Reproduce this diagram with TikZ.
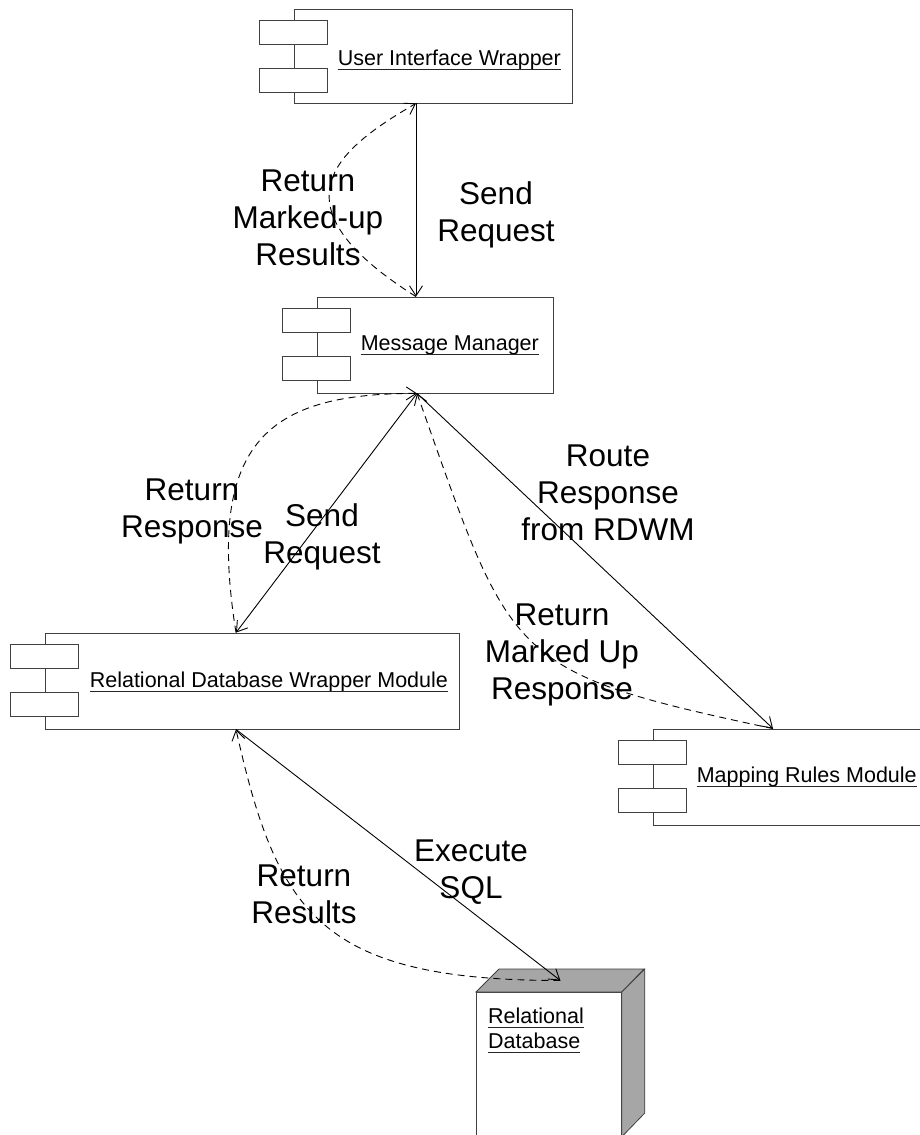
\documentclass[tikz,border=0pt]{standalone}
\usepackage{fontspec}
\setmainfont{Liberation Sans}
\usetikzlibrary{arrows.meta, calc}

\tikzset{
  comp/.style={draw=black!75, fill=white, line width=0.8pt, inner sep=0pt},
  tab/.style={draw=black!75, fill=white, line width=0.8pt},
  clabel/.style={font=\fontsize{21.5pt}{25pt}\selectfont, inner sep=0pt, anchor=base west},
  uline/.style={black!85, line width=0.9pt},
  msg/.style={font=\fontsize{31.5pt}{37pt}\selectfont, align=center, inner sep=0pt},
  req/.style={line width=0.9pt, -{Straight Barb[length=10pt,width=13pt]}},
  ret/.style={req, dash pattern=on 7pt off 5pt},
  dbface/.style={draw=black!75, fill=black!35, line width=0.8pt}
}

\begin{document}
\begin{tikzpicture}[x=1pt, y=-1pt]
    \path[use as bounding box, fill=white] (0,0) rectangle (919,1135);

    % Draw the components
    \node[comp, minimum width=278pt, minimum height=94pt] (uiw) at (433,56) {};
    \node[comp, minimum width=236pt, minimum height=96pt] (mm) at (435,345) {};
    \node[comp, minimum width=414pt, minimum height=96pt] (rdwm) at (252,681) {};
    \node[comp, minimum width=282pt, minimum height=96pt] (mrm) at (794,777) {};

    % Component tabs
    \draw[tab] ([shift={(-34,12)}]uiw.north west) rectangle ++(68,24);
    \draw[tab] ([shift={(-34,60)}]uiw.north west) rectangle ++(68,24);
    \draw[tab] ([shift={(-34,12)}]mm.north west) rectangle ++(68,24);
    \draw[tab] ([shift={(-34,60)}]mm.north west) rectangle ++(68,24);
    \draw[tab] ([shift={(-34,12)}]rdwm.north west) rectangle ++(68,24);
    \draw[tab] ([shift={(-34,60)}]rdwm.north west) rectangle ++(68,24);
    \draw[tab] ([shift={(-34,12)}]mrm.north west) rectangle ++(68,24);
    \draw[tab] ([shift={(-34,60)}]mrm.north west) rectangle ++(68,24);

    % Draw the database
    \node[comp, minimum width=145pt, minimum height=144pt, anchor=north west] (db) at (476,992) {};
    \draw[dbface] (db.north west) -- ++(23,-23) -- ++(145,0) -- (db.north east) -- cycle;
    \draw[dbface] (db.north east) -- ++(23,-23) -- ++(0,144) -- (db.south east) -- cycle;

    % Label the components
    \node[clabel] (uiw-l) at ([shift={(44,57)}]uiw.north west) {User Interface Wrapper};
    \node[clabel] (mm-l) at ([shift={(44,54)}]mm.north west) {Message Manager};
    \node[clabel] (rdwm-l) at ([shift={(45,55)}]rdwm.north west) {Relational Database Wrapper Module};
    \node[clabel] (mrm-l) at ([shift={(44,54)}]mrm.north west) {Mapping Rules Module};
    \node[clabel] (db-l1) at ([shift={(12,31)}]db.north west) {Relational};
    \node[clabel] (db-l2) at ([shift={(12,56)}]db.north west) {Database};
    \draw[uline] ([yshift=-4pt]uiw-l.base west) -- ([yshift=-4pt]uiw-l.base east);
    \draw[uline] ([yshift=-4pt]mm-l.base west) -- ([yshift=-4pt]mm-l.base east);
    \draw[uline] ([yshift=-4pt]rdwm-l.base west) -- ([yshift=-4pt]rdwm-l.base east);
    \draw[uline] ([yshift=-4pt]mrm-l.base west) -- ([yshift=-4pt]mrm-l.base east);
    \draw[uline] ([yshift=-4pt]db-l1.base west) -- ([yshift=-4pt]db-l1.base east);
    \draw[uline] ([yshift=-4pt]db-l2.base west) -- ([yshift=-4pt]db-l2.base east);

    % Connection points
    \coordinate (uiw-s) at ([xshift=-17pt]uiw.south);
    \coordinate (mm-n) at ([xshift=-19pt]mm.north);
    \coordinate (mm-s) at ([xshift=-18pt]mm.south);
    \coordinate (rdwm-n) at ([xshift=-16pt]rdwm.north);
    \coordinate (rdwm-s) at ([xshift=-16pt]rdwm.south);
    \coordinate (mrm-n) at ([xshift=-21pt]mrm.north);
    \coordinate (db-t) at ([shift={(11.5,-11.5)}]db.north);

    % Requests
    \draw[req] (uiw-s) -- (mm-n);
    \draw[req] (mm-s) -- (rdwm-n);
    \draw[req] (mm-s) -- (mrm-n);
    \draw[req] (rdwm-s) -- (db-t);

    % Returns
    \draw[ret] (mm-n) .. controls +(-146,-92) and +(-81,47) .. (uiw-s);
    \draw[ret] (rdwm-n) .. controls +(-31,-193) and +(-147,0) .. (mm-s);
    \draw[ret] (mrm-n) .. controls +(-268,-57) and +(95,268) .. (mm-s);
    \draw[ret] (db-t) .. controls +(-241,0) and +(41,183) .. (rdwm-s);

    % Label the messages
    \node[msg] (m1) at (308,218) {Return\\Marked-up\\Results};
    \node[msg] (m2) at (496,215) {Send\\Request};
    \node[msg] (m3) at (192,511) {Return\\Response};
    \node[msg] (m4) at (322,537) {Send\\Request};
    \node[msg] (m5) at (608,493) {Route\\Response\\from RDWM};
    \node[msg] (m6) at (562,655) {Return\\Marked Up\\Response};
    \node[msg] (m7) at (471,872) {Execute\\SQL};
    \node[msg] (m8) at (304,894) {Return\\Results};

\end{tikzpicture}
\end{document}
